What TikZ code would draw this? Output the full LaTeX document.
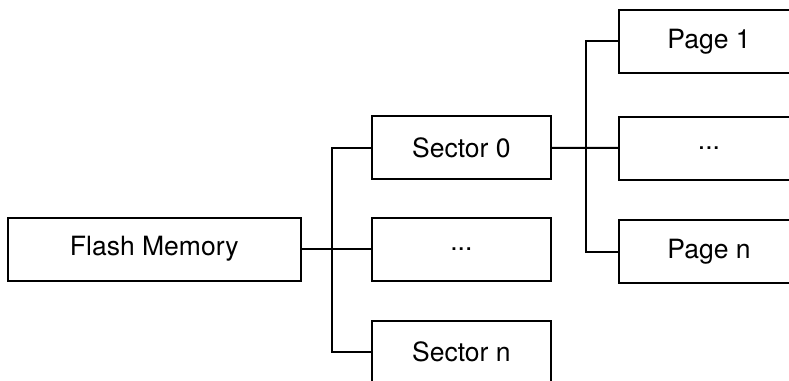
\documentclass[tikz,border=0pt]{standalone}
\usepackage{fontspec}
\setmainfont{TeX Gyre Heros}
\begin{document}
\begin{tikzpicture}[x=1pt,y=-1pt,
  box/.style={draw=black,line width=2pt,fill=white,inner sep=0pt,
    minimum width=179.3pt,minimum height=63pt,font=\fontsize{26.5pt}{30pt}\selectfont},
  conn/.style={draw=black,line width=2pt}]
\useasboundingbox (0,0) rectangle (789,380);
\clip (0,0) rectangle (789,380);
\node[box,minimum width=293.5pt] (flash) at (154.25,249.2) {Flash Memory};
\node[box] (s0) at (461.35,147.8) {Sector 0};
\node[box] (s1) at (461.35,249.2) {...};
\node[box] (sn) at (461.35,352.3) {Sector n};
\node[box] (p1) at (709,41.3) {Page 1};
\node[box] (pm) at (709,148) {...};
\node[box] (pn) at (709,251.5) {Page n};
\coordinate (b1) at (331.7,249.2);
\coordinate (b2) at (585.7,147.8);
\draw[conn] (flash.east) -- (b1) -- (s1.west);
\draw[conn] (s0.west) -| (b1) |- (sn.west);
\draw[conn] (s0.east) -- (b2) -- (pm.west);
\draw[conn] (p1.west) -| (b2) |- (pn.west);
\end{tikzpicture}
\end{document}
